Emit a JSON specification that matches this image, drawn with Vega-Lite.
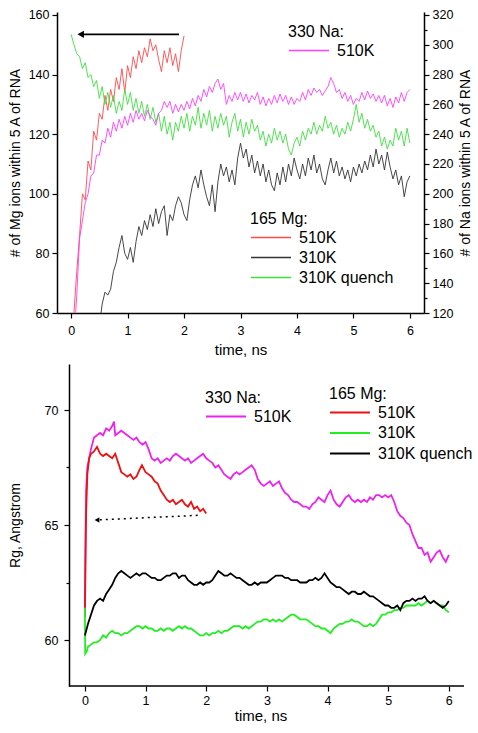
{
"$schema":"https://vega.github.io/schema/vega-lite/v6.json",
"padding":{"left":8,"top":8,"right":2,"bottom":2},
"spacing":6,
"config":{"font":"Liberation Sans","view":{"stroke":null},
"axis":{"grid":false,"domainColor":"#000","domainWidth":1.5,"tickColor":"#000","tickWidth":1.2,"labelColor":"#000","titleColor":"#000","labelFontSize":12.5,"titleFontSize":14,"titleFontWeight":"normal","labelOverlap":false,"labelFlush":false},
"legend":{"titleFontSize":16,"titleFontWeight":"normal","labelFontSize":16,"titleColor":"#000","labelColor":"#000","symbolType":"stroke","symbolSize":1600,"symbolOpacity":1,"clipHeight":17,"rowPadding":3,"titlePadding":2,"labelOffset":7,"padding":0,"orient":"none"}},
"datasets":{
"top_arrow":[{"t":1.91,"v":153.5,"t2":0.17,"v2":153.5}],
"bot_arrow":[{"t":1.86,"v":65.42,"t2":0.2,"v2":65.22}],
"bot_frame":[{"t":-0.264,"t2":6.25,"v":58}],
"top_mg":[
{"s":"510K","t":0.05,"v":60},{"s":"510K","t":0.1,"v":74},{"s":"510K","t":0.15,"v":86},{"s":"510K","t":0.2,"v":100},{"s":"510K","t":0.25,"v":98},{"s":"510K","t":0.3,"v":111},{"s":"510K","t":0.35,"v":108},{"s":"510K","t":0.4,"v":121},{"s":"510K","t":0.45,"v":118},{"s":"510K","t":0.5,"v":127},{"s":"510K","t":0.55,"v":125},{"s":"510K","t":0.6,"v":133},{"s":"510K","t":0.65,"v":128},{"s":"510K","t":0.7,"v":135},{"s":"510K","t":0.75,"v":131},{"s":"510K","t":0.8,"v":139},{"s":"510K","t":0.85,"v":135},{"s":"510K","t":0.9,"v":142},{"s":"510K","t":0.95,"v":134},{"s":"510K","t":1.0,"v":143},{"s":"510K","t":1.05,"v":139},{"s":"510K","t":1.1,"v":146},{"s":"510K","t":1.15,"v":142},{"s":"510K","t":1.2,"v":148},{"s":"510K","t":1.25,"v":144},{"s":"510K","t":1.3,"v":149},{"s":"510K","t":1.35,"v":146},{"s":"510K","t":1.4,"v":152},{"s":"510K","t":1.45,"v":148},{"s":"510K","t":1.5,"v":150},{"s":"510K","t":1.55,"v":145},{"s":"510K","t":1.6,"v":141},{"s":"510K","t":1.65,"v":148},{"s":"510K","t":1.7,"v":144},{"s":"510K","t":1.75,"v":149},{"s":"510K","t":1.8,"v":143},{"s":"510K","t":1.85,"v":147},{"s":"510K","t":1.9,"v":141},{"s":"510K","t":1.95,"v":148},{"s":"510K","t":2.0,"v":153},
{"s":"310K","t":0.53,"v":60},{"s":"310K","t":0.55,"v":63},{"s":"310K","t":0.6,"v":67},{"s":"310K","t":0.65,"v":66},{"s":"310K","t":0.7,"v":68},{"s":"310K","t":0.75,"v":74},{"s":"310K","t":0.8,"v":77},{"s":"310K","t":0.85,"v":82},{"s":"310K","t":0.9,"v":86},{"s":"310K","t":0.95,"v":80},{"s":"310K","t":1.0,"v":78},{"s":"310K","t":1.05,"v":82},{"s":"310K","t":1.1,"v":77},{"s":"310K","t":1.15,"v":84},{"s":"310K","t":1.2,"v":89},{"s":"310K","t":1.25,"v":86},{"s":"310K","t":1.3,"v":91},{"s":"310K","t":1.35,"v":88},{"s":"310K","t":1.4,"v":93},{"s":"310K","t":1.45,"v":89},{"s":"310K","t":1.5,"v":95},{"s":"310K","t":1.55,"v":90},{"s":"310K","t":1.6,"v":94},{"s":"310K","t":1.65,"v":96},{"s":"310K","t":1.7,"v":86},{"s":"310K","t":1.75,"v":93},{"s":"310K","t":1.8,"v":91},{"s":"310K","t":1.85,"v":96},{"s":"310K","t":1.9,"v":99},{"s":"310K","t":1.95,"v":97},{"s":"310K","t":2.0,"v":93},{"s":"310K","t":2.05,"v":91},{"s":"310K","t":2.1,"v":98},{"s":"310K","t":2.15,"v":103},{"s":"310K","t":2.2,"v":106},{"s":"310K","t":2.25,"v":102},{"s":"310K","t":2.3,"v":108},{"s":"310K","t":2.35,"v":103},{"s":"310K","t":2.4,"v":99},{"s":"310K","t":2.45,"v":96},{"s":"310K","t":2.5,"v":103},{"s":"310K","t":2.55,"v":94},{"s":"310K","t":2.6,"v":104},{"s":"310K","t":2.65,"v":110},{"s":"310K","t":2.7,"v":106},{"s":"310K","t":2.75,"v":109},{"s":"310K","t":2.8,"v":104},{"s":"310K","t":2.85,"v":108},{"s":"310K","t":2.9,"v":103},{"s":"310K","t":2.95,"v":112},{"s":"310K","t":3.0,"v":117},{"s":"310K","t":3.05,"v":112},{"s":"310K","t":3.1,"v":115},{"s":"310K","t":3.15,"v":109},{"s":"310K","t":3.2,"v":113},{"s":"310K","t":3.25,"v":107},{"s":"310K","t":3.3,"v":111},{"s":"310K","t":3.35,"v":106},{"s":"310K","t":3.4,"v":110},{"s":"310K","t":3.45,"v":104},{"s":"310K","t":3.5,"v":108},{"s":"310K","t":3.55,"v":103},{"s":"310K","t":3.6,"v":101},{"s":"310K","t":3.65,"v":107},{"s":"310K","t":3.7,"v":103},{"s":"310K","t":3.75,"v":109},{"s":"310K","t":3.8,"v":104},{"s":"310K","t":3.85,"v":110},{"s":"310K","t":3.9,"v":106},{"s":"310K","t":3.95,"v":112},{"s":"310K","t":4.0,"v":108},{"s":"310K","t":4.05,"v":105},{"s":"310K","t":4.1,"v":110},{"s":"310K","t":4.15,"v":106},{"s":"310K","t":4.2,"v":112},{"s":"310K","t":4.25,"v":108},{"s":"310K","t":4.3,"v":113},{"s":"310K","t":4.35,"v":107},{"s":"310K","t":4.4,"v":110},{"s":"310K","t":4.45,"v":105},{"s":"310K","t":4.5,"v":103},{"s":"310K","t":4.55,"v":108},{"s":"310K","t":4.6,"v":112},{"s":"310K","t":4.65,"v":107},{"s":"310K","t":4.7,"v":111},{"s":"310K","t":4.75,"v":106},{"s":"310K","t":4.8,"v":109},{"s":"310K","t":4.85,"v":105},{"s":"310K","t":4.9,"v":108},{"s":"310K","t":4.95,"v":104},{"s":"310K","t":5.0,"v":109},{"s":"310K","t":5.05,"v":106},{"s":"310K","t":5.1,"v":110},{"s":"310K","t":5.15,"v":107},{"s":"310K","t":5.2,"v":111},{"s":"310K","t":5.25,"v":108},{"s":"310K","t":5.3,"v":113},{"s":"310K","t":5.35,"v":109},{"s":"310K","t":5.4,"v":115},{"s":"310K","t":5.45,"v":110},{"s":"310K","t":5.5,"v":113},{"s":"310K","t":5.55,"v":108},{"s":"310K","t":5.6,"v":114},{"s":"310K","t":5.65,"v":109},{"s":"310K","t":5.7,"v":105},{"s":"310K","t":5.75,"v":108},{"s":"310K","t":5.8,"v":103},{"s":"310K","t":5.85,"v":106},{"s":"310K","t":5.9,"v":99},{"s":"310K","t":5.95,"v":104},{"s":"310K","t":6.0,"v":106},
{"s":"310K quench","t":0.0,"v":153.5},{"s":"310K quench","t":0.05,"v":150},{"s":"310K quench","t":0.1,"v":147},{"s":"310K quench","t":0.15,"v":146},{"s":"310K quench","t":0.2,"v":142},{"s":"310K quench","t":0.25,"v":144},{"s":"310K quench","t":0.3,"v":139},{"s":"310K quench","t":0.35,"v":140},{"s":"310K quench","t":0.4,"v":136},{"s":"310K quench","t":0.45,"v":138},{"s":"310K quench","t":0.5,"v":132},{"s":"310K quench","t":0.55,"v":136},{"s":"310K quench","t":0.6,"v":130},{"s":"310K quench","t":0.65,"v":134},{"s":"310K quench","t":0.7,"v":129},{"s":"310K quench","t":0.75,"v":133},{"s":"310K quench","t":0.8,"v":127},{"s":"310K quench","t":0.85,"v":131},{"s":"310K quench","t":0.9,"v":128},{"s":"310K quench","t":0.95,"v":135},{"s":"310K quench","t":1.0,"v":130},{"s":"310K quench","t":1.05,"v":134},{"s":"310K quench","t":1.1,"v":128},{"s":"310K quench","t":1.15,"v":132},{"s":"310K quench","t":1.2,"v":127},{"s":"310K quench","t":1.25,"v":131},{"s":"310K quench","t":1.3,"v":126},{"s":"310K quench","t":1.35,"v":130},{"s":"310K quench","t":1.4,"v":125},{"s":"310K quench","t":1.45,"v":129},{"s":"310K quench","t":1.5,"v":124},{"s":"310K quench","t":1.55,"v":127},{"s":"310K quench","t":1.6,"v":121},{"s":"310K quench","t":1.65,"v":126},{"s":"310K quench","t":1.7,"v":120},{"s":"310K quench","t":1.75,"v":124},{"s":"310K quench","t":1.8,"v":118},{"s":"310K quench","t":1.85,"v":124},{"s":"310K quench","t":1.9,"v":121},{"s":"310K quench","t":1.95,"v":126},{"s":"310K quench","t":2.0,"v":122},{"s":"310K quench","t":2.05,"v":127},{"s":"310K quench","t":2.1,"v":121},{"s":"310K quench","t":2.15,"v":126},{"s":"310K quench","t":2.2,"v":123},{"s":"310K quench","t":2.25,"v":129},{"s":"310K quench","t":2.3,"v":122},{"s":"310K quench","t":2.35,"v":127},{"s":"310K quench","t":2.4,"v":123},{"s":"310K quench","t":2.45,"v":128},{"s":"310K quench","t":2.5,"v":121},{"s":"310K quench","t":2.55,"v":126},{"s":"310K quench","t":2.6,"v":122},{"s":"310K quench","t":2.65,"v":127},{"s":"310K quench","t":2.7,"v":123},{"s":"310K quench","t":2.75,"v":126},{"s":"310K quench","t":2.8,"v":119},{"s":"310K quench","t":2.85,"v":124},{"s":"310K quench","t":2.9,"v":127},{"s":"310K quench","t":2.95,"v":121},{"s":"310K quench","t":3.0,"v":125},{"s":"310K quench","t":3.05,"v":119},{"s":"310K quench","t":3.1,"v":124},{"s":"310K quench","t":3.15,"v":120},{"s":"310K quench","t":3.2,"v":125},{"s":"310K quench","t":3.25,"v":121},{"s":"310K quench","t":3.3,"v":123},{"s":"310K quench","t":3.35,"v":118},{"s":"310K quench","t":3.4,"v":121},{"s":"310K quench","t":3.45,"v":116},{"s":"310K quench","t":3.5,"v":120},{"s":"310K quench","t":3.55,"v":117},{"s":"310K quench","t":3.6,"v":122},{"s":"310K quench","t":3.65,"v":118},{"s":"310K quench","t":3.7,"v":121},{"s":"310K quench","t":3.75,"v":117},{"s":"310K quench","t":3.8,"v":120},{"s":"310K quench","t":3.85,"v":115},{"s":"310K quench","t":3.9,"v":113},{"s":"310K quench","t":3.95,"v":117},{"s":"310K quench","t":4.0,"v":119},{"s":"310K quench","t":4.05,"v":116},{"s":"310K quench","t":4.1,"v":121},{"s":"310K quench","t":4.15,"v":118},{"s":"310K quench","t":4.2,"v":122},{"s":"310K quench","t":4.25,"v":120},{"s":"310K quench","t":4.3,"v":124},{"s":"310K quench","t":4.35,"v":120},{"s":"310K quench","t":4.4,"v":123},{"s":"310K quench","t":4.45,"v":121},{"s":"310K quench","t":4.5,"v":126},{"s":"310K quench","t":4.55,"v":122},{"s":"310K quench","t":4.6,"v":124},{"s":"310K quench","t":4.65,"v":120},{"s":"310K quench","t":4.7,"v":123},{"s":"310K quench","t":4.75,"v":119},{"s":"310K quench","t":4.8,"v":122},{"s":"310K quench","t":4.85,"v":120},{"s":"310K quench","t":4.9,"v":124},{"s":"310K quench","t":4.95,"v":121},{"s":"310K quench","t":5.0,"v":125},{"s":"310K quench","t":5.05,"v":130},{"s":"310K quench","t":5.1,"v":124},{"s":"310K quench","t":5.15,"v":127},{"s":"310K quench","t":5.2,"v":122},{"s":"310K quench","t":5.25,"v":125},{"s":"310K quench","t":5.3,"v":121},{"s":"310K quench","t":5.35,"v":123},{"s":"310K quench","t":5.4,"v":119},{"s":"310K quench","t":5.45,"v":121},{"s":"310K quench","t":5.5,"v":116},{"s":"310K quench","t":5.55,"v":119},{"s":"310K quench","t":5.6,"v":115},{"s":"310K quench","t":5.65,"v":118},{"s":"310K quench","t":5.7,"v":116},{"s":"310K quench","t":5.75,"v":122},{"s":"310K quench","t":5.8,"v":118},{"s":"310K quench","t":5.85,"v":121},{"s":"310K quench","t":5.9,"v":116},{"s":"310K quench","t":5.95,"v":122},{"s":"310K quench","t":6.0,"v":117}
],
"top_na":[
{"s":"510K","t":0.08,"v":120},{"s":"510K","t":0.1,"v":132},{"s":"510K","t":0.15,"v":170},{"s":"510K","t":0.2,"v":182},{"s":"510K","t":0.25,"v":194},{"s":"510K","t":0.3,"v":200},{"s":"510K","t":0.35,"v":212},{"s":"510K","t":0.4,"v":214},{"s":"510K","t":0.45,"v":226},{"s":"510K","t":0.5,"v":226},{"s":"510K","t":0.55,"v":236},{"s":"510K","t":0.6,"v":234},{"s":"510K","t":0.65,"v":244},{"s":"510K","t":0.7,"v":238},{"s":"510K","t":0.75,"v":248},{"s":"510K","t":0.8,"v":242},{"s":"510K","t":0.85,"v":250},{"s":"510K","t":0.9,"v":244},{"s":"510K","t":0.95,"v":252},{"s":"510K","t":1.0,"v":246},{"s":"510K","t":1.05,"v":254},{"s":"510K","t":1.1,"v":248},{"s":"510K","t":1.15,"v":256},{"s":"510K","t":1.2,"v":250},{"s":"510K","t":1.25,"v":254},{"s":"510K","t":1.3,"v":249},{"s":"510K","t":1.35,"v":256},{"s":"510K","t":1.4,"v":252},{"s":"510K","t":1.45,"v":250},{"s":"510K","t":1.5,"v":246},{"s":"510K","t":1.55,"v":254},{"s":"510K","t":1.6,"v":256},{"s":"510K","t":1.65,"v":262},{"s":"510K","t":1.7,"v":258},{"s":"510K","t":1.75,"v":262},{"s":"510K","t":1.8,"v":254},{"s":"510K","t":1.85,"v":260},{"s":"510K","t":1.9,"v":255},{"s":"510K","t":1.95,"v":260},{"s":"510K","t":2.0,"v":256},{"s":"510K","t":2.05,"v":262},{"s":"510K","t":2.1,"v":257},{"s":"510K","t":2.15,"v":264},{"s":"510K","t":2.2,"v":259},{"s":"510K","t":2.25,"v":266},{"s":"510K","t":2.3,"v":262},{"s":"510K","t":2.35,"v":270},{"s":"510K","t":2.4,"v":265},{"s":"510K","t":2.45,"v":272},{"s":"510K","t":2.5,"v":268},{"s":"510K","t":2.55,"v":274},{"s":"510K","t":2.6,"v":277},{"s":"510K","t":2.65,"v":270},{"s":"510K","t":2.7,"v":274},{"s":"510K","t":2.75,"v":260},{"s":"510K","t":2.8,"v":266},{"s":"510K","t":2.85,"v":262},{"s":"510K","t":2.9,"v":268},{"s":"510K","t":2.95,"v":263},{"s":"510K","t":3.0,"v":268},{"s":"510K","t":3.05,"v":262},{"s":"510K","t":3.1,"v":267},{"s":"510K","t":3.15,"v":261},{"s":"510K","t":3.2,"v":266},{"s":"510K","t":3.25,"v":263},{"s":"510K","t":3.3,"v":268},{"s":"510K","t":3.35,"v":260},{"s":"510K","t":3.4,"v":265},{"s":"510K","t":3.45,"v":259},{"s":"510K","t":3.5,"v":264},{"s":"510K","t":3.55,"v":260},{"s":"510K","t":3.6,"v":266},{"s":"510K","t":3.65,"v":261},{"s":"510K","t":3.7,"v":267},{"s":"510K","t":3.75,"v":262},{"s":"510K","t":3.8,"v":266},{"s":"510K","t":3.85,"v":260},{"s":"510K","t":3.9,"v":265},{"s":"510K","t":3.95,"v":260},{"s":"510K","t":4.0,"v":264},{"s":"510K","t":4.05,"v":262},{"s":"510K","t":4.1,"v":268},{"s":"510K","t":4.15,"v":263},{"s":"510K","t":4.2,"v":270},{"s":"510K","t":4.25,"v":266},{"s":"510K","t":4.3,"v":271},{"s":"510K","t":4.35,"v":268},{"s":"510K","t":4.4,"v":270},{"s":"510K","t":4.45,"v":266},{"s":"510K","t":4.5,"v":269},{"s":"510K","t":4.55,"v":272},{"s":"510K","t":4.6,"v":278},{"s":"510K","t":4.65,"v":274},{"s":"510K","t":4.7,"v":268},{"s":"510K","t":4.75,"v":270},{"s":"510K","t":4.8,"v":264},{"s":"510K","t":4.85,"v":268},{"s":"510K","t":4.9,"v":262},{"s":"510K","t":4.95,"v":266},{"s":"510K","t":5.0,"v":260},{"s":"510K","t":5.05,"v":264},{"s":"510K","t":5.1,"v":262},{"s":"510K","t":5.15,"v":268},{"s":"510K","t":5.2,"v":263},{"s":"510K","t":5.25,"v":269},{"s":"510K","t":5.3,"v":264},{"s":"510K","t":5.35,"v":267},{"s":"510K","t":5.4,"v":262},{"s":"510K","t":5.45,"v":266},{"s":"510K","t":5.5,"v":261},{"s":"510K","t":5.55,"v":266},{"s":"510K","t":5.6,"v":259},{"s":"510K","t":5.65,"v":264},{"s":"510K","t":5.7,"v":258},{"s":"510K","t":5.75,"v":265},{"s":"510K","t":5.8,"v":261},{"s":"510K","t":5.85,"v":268},{"s":"510K","t":5.9,"v":262},{"s":"510K","t":5.95,"v":268},{"s":"510K","t":6.0,"v":270}
],
"bot_na":[
{"s":"510K","t":0.0,"v":61.4},{"s":"510K","t":0.01,"v":64.5},{"s":"510K","t":0.02,"v":66.5},{"s":"510K","t":0.04,"v":67.5},{"s":"510K","t":0.07,"v":67.9},{"s":"510K","t":0.1,"v":68.3},{"s":"510K","t":0.15,"v":68.8},{"s":"510K","t":0.2,"v":68.9},{"s":"510K","t":0.25,"v":69.0},{"s":"510K","t":0.3,"v":68.9},{"s":"510K","t":0.35,"v":69.2},{"s":"510K","t":0.4,"v":69.1},{"s":"510K","t":0.45,"v":69.3},{"s":"510K","t":0.48,"v":69.5},{"s":"510K","t":0.5,"v":68.9},{"s":"510K","t":0.55,"v":69.0},{"s":"510K","t":0.6,"v":69.1},{"s":"510K","t":0.65,"v":69.0},{"s":"510K","t":0.7,"v":68.9},{"s":"510K","t":0.75,"v":68.8},{"s":"510K","t":0.8,"v":68.7},{"s":"510K","t":0.85,"v":68.8},{"s":"510K","t":0.9,"v":68.6},{"s":"510K","t":0.95,"v":68.5},{"s":"510K","t":1.0,"v":68.6},{"s":"510K","t":1.05,"v":68.3},{"s":"510K","t":1.1,"v":67.9},{"s":"510K","t":1.15,"v":67.8},{"s":"510K","t":1.2,"v":67.9},{"s":"510K","t":1.25,"v":67.7},{"s":"510K","t":1.3,"v":67.8},{"s":"510K","t":1.35,"v":67.9},{"s":"510K","t":1.4,"v":67.8},{"s":"510K","t":1.45,"v":68.0},{"s":"510K","t":1.5,"v":68.1},{"s":"510K","t":1.55,"v":68.0},{"s":"510K","t":1.6,"v":67.9},{"s":"510K","t":1.65,"v":67.8},{"s":"510K","t":1.7,"v":67.9},{"s":"510K","t":1.75,"v":67.7},{"s":"510K","t":1.8,"v":67.8},{"s":"510K","t":1.85,"v":67.9},{"s":"510K","t":1.9,"v":68.0},{"s":"510K","t":1.95,"v":68.1},{"s":"510K","t":2.0,"v":67.9},{"s":"510K","t":2.05,"v":67.8},{"s":"510K","t":2.1,"v":67.7},{"s":"510K","t":2.15,"v":67.5},{"s":"510K","t":2.2,"v":67.6},{"s":"510K","t":2.25,"v":67.4},{"s":"510K","t":2.3,"v":67.2},{"s":"510K","t":2.35,"v":67.1},{"s":"510K","t":2.4,"v":67.0},{"s":"510K","t":2.45,"v":67.2},{"s":"510K","t":2.5,"v":67.3},{"s":"510K","t":2.55,"v":67.2},{"s":"510K","t":2.6,"v":67.3},{"s":"510K","t":2.65,"v":67.4},{"s":"510K","t":2.7,"v":67.5},{"s":"510K","t":2.75,"v":67.6},{"s":"510K","t":2.8,"v":67.4},{"s":"510K","t":2.85,"v":67.0},{"s":"510K","t":2.9,"v":66.8},{"s":"510K","t":2.95,"v":66.7},{"s":"510K","t":3.0,"v":66.8},{"s":"510K","t":3.05,"v":66.9},{"s":"510K","t":3.1,"v":66.7},{"s":"510K","t":3.15,"v":66.8},{"s":"510K","t":3.2,"v":66.9},{"s":"510K","t":3.25,"v":66.6},{"s":"510K","t":3.3,"v":66.4},{"s":"510K","t":3.35,"v":66.3},{"s":"510K","t":3.4,"v":66.1},{"s":"510K","t":3.45,"v":66.0},{"s":"510K","t":3.5,"v":66.0},{"s":"510K","t":3.55,"v":65.9},{"s":"510K","t":3.6,"v":65.8},{"s":"510K","t":3.65,"v":65.8},{"s":"510K","t":3.7,"v":65.7},{"s":"510K","t":3.75,"v":65.9},{"s":"510K","t":3.8,"v":66.0},{"s":"510K","t":3.85,"v":66.2},{"s":"510K","t":3.9,"v":66.1},{"s":"510K","t":3.95,"v":66.0},{"s":"510K","t":4.0,"v":66.3},{"s":"510K","t":4.05,"v":66.5},{"s":"510K","t":4.1,"v":66.1},{"s":"510K","t":4.15,"v":65.9},{"s":"510K","t":4.2,"v":65.8},{"s":"510K","t":4.25,"v":66.0},{"s":"510K","t":4.3,"v":66.2},{"s":"510K","t":4.35,"v":66.3},{"s":"510K","t":4.4,"v":66.1},{"s":"510K","t":4.45,"v":66.0},{"s":"510K","t":4.5,"v":66.1},{"s":"510K","t":4.55,"v":66.0},{"s":"510K","t":4.6,"v":66.1},{"s":"510K","t":4.65,"v":66.0},{"s":"510K","t":4.7,"v":66.2},{"s":"510K","t":4.75,"v":66.1},{"s":"510K","t":4.8,"v":66.3},{"s":"510K","t":4.85,"v":66.3},{"s":"510K","t":4.9,"v":66.2},{"s":"510K","t":4.95,"v":66.3},{"s":"510K","t":5.0,"v":66.2},{"s":"510K","t":5.05,"v":66.3},{"s":"510K","t":5.1,"v":66.0},{"s":"510K","t":5.15,"v":65.6},{"s":"510K","t":5.2,"v":65.4},{"s":"510K","t":5.25,"v":65.3},{"s":"510K","t":5.3,"v":65.1},{"s":"510K","t":5.35,"v":65.0},{"s":"510K","t":5.4,"v":64.6},{"s":"510K","t":5.45,"v":64.3},{"s":"510K","t":5.5,"v":64.0},{"s":"510K","t":5.55,"v":64.0},{"s":"510K","t":5.6,"v":63.7},{"s":"510K","t":5.65,"v":63.8},{"s":"510K","t":5.7,"v":63.4},{"s":"510K","t":5.75,"v":63.6},{"s":"510K","t":5.8,"v":63.8},{"s":"510K","t":5.85,"v":63.9},{"s":"510K","t":5.9,"v":63.6},{"s":"510K","t":5.95,"v":63.4},{"s":"510K","t":6.0,"v":63.7}
],
"bot_mg":[
{"s":"510K","t":0.0,"v":61.0},{"s":"510K","t":0.01,"v":63.5},{"s":"510K","t":0.02,"v":65.5},{"s":"510K","t":0.04,"v":67.2},{"s":"510K","t":0.07,"v":67.9},{"s":"510K","t":0.1,"v":68.1},{"s":"510K","t":0.15,"v":68.2},{"s":"510K","t":0.2,"v":68.4},{"s":"510K","t":0.25,"v":68.1},{"s":"510K","t":0.3,"v":68.0},{"s":"510K","t":0.35,"v":68.1},{"s":"510K","t":0.4,"v":68.0},{"s":"510K","t":0.45,"v":67.9},{"s":"510K","t":0.5,"v":68.1},{"s":"510K","t":0.55,"v":67.7},{"s":"510K","t":0.6,"v":67.3},{"s":"510K","t":0.65,"v":67.2},{"s":"510K","t":0.7,"v":67.1},{"s":"510K","t":0.75,"v":67.2},{"s":"510K","t":0.8,"v":67.0},{"s":"510K","t":0.85,"v":67.1},{"s":"510K","t":0.9,"v":67.4},{"s":"510K","t":0.94,"v":67.6},{"s":"510K","t":1.0,"v":67.3},{"s":"510K","t":1.05,"v":67.2},{"s":"510K","t":1.1,"v":67.1},{"s":"510K","t":1.15,"v":66.9},{"s":"510K","t":1.2,"v":66.8},{"s":"510K","t":1.25,"v":66.5},{"s":"510K","t":1.3,"v":66.3},{"s":"510K","t":1.35,"v":66.1},{"s":"510K","t":1.4,"v":66.0},{"s":"510K","t":1.45,"v":66.1},{"s":"510K","t":1.5,"v":65.9},{"s":"510K","t":1.55,"v":66.0},{"s":"510K","t":1.6,"v":66.1},{"s":"510K","t":1.65,"v":65.9},{"s":"510K","t":1.7,"v":65.8},{"s":"510K","t":1.75,"v":66.0},{"s":"510K","t":1.8,"v":65.7},{"s":"510K","t":1.85,"v":65.8},{"s":"510K","t":1.9,"v":65.6},{"s":"510K","t":1.95,"v":65.7},{"s":"510K","t":2.0,"v":65.5},
{"s":"310K","t":0.0,"v":61.4},{"s":"310K","t":0.005,"v":59.4},{"s":"310K","t":0.03,"v":59.5},{"s":"310K","t":0.05,"v":59.7},{"s":"310K","t":0.1,"v":59.8},{"s":"310K","t":0.15,"v":59.9},{"s":"310K","t":0.2,"v":59.9},{"s":"310K","t":0.25,"v":60.0},{"s":"310K","t":0.3,"v":60.2},{"s":"310K","t":0.35,"v":60.1},{"s":"310K","t":0.4,"v":60.3},{"s":"310K","t":0.45,"v":60.4},{"s":"310K","t":0.5,"v":60.3},{"s":"310K","t":0.55,"v":60.3},{"s":"310K","t":0.6,"v":60.2},{"s":"310K","t":0.65,"v":60.3},{"s":"310K","t":0.7,"v":60.3},{"s":"310K","t":0.75,"v":60.4},{"s":"310K","t":0.8,"v":60.5},{"s":"310K","t":0.85,"v":60.6},{"s":"310K","t":0.9,"v":60.6},{"s":"310K","t":0.95,"v":60.5},{"s":"310K","t":1.0,"v":60.6},{"s":"310K","t":1.05,"v":60.5},{"s":"310K","t":1.1,"v":60.5},{"s":"310K","t":1.15,"v":60.4},{"s":"310K","t":1.2,"v":60.4},{"s":"310K","t":1.25,"v":60.5},{"s":"310K","t":1.3,"v":60.4},{"s":"310K","t":1.35,"v":60.5},{"s":"310K","t":1.4,"v":60.5},{"s":"310K","t":1.45,"v":60.4},{"s":"310K","t":1.5,"v":60.5},{"s":"310K","t":1.55,"v":60.6},{"s":"310K","t":1.6,"v":60.5},{"s":"310K","t":1.65,"v":60.6},{"s":"310K","t":1.7,"v":60.5},{"s":"310K","t":1.75,"v":60.5},{"s":"310K","t":1.8,"v":60.4},{"s":"310K","t":1.85,"v":60.3},{"s":"310K","t":1.9,"v":60.2},{"s":"310K","t":1.95,"v":60.2},{"s":"310K","t":2.0,"v":60.3},{"s":"310K","t":2.05,"v":60.2},{"s":"310K","t":2.1,"v":60.3},{"s":"310K","t":2.15,"v":60.3},{"s":"310K","t":2.2,"v":60.4},{"s":"310K","t":2.25,"v":60.3},{"s":"310K","t":2.3,"v":60.4},{"s":"310K","t":2.35,"v":60.4},{"s":"310K","t":2.4,"v":60.5},{"s":"310K","t":2.45,"v":60.6},{"s":"310K","t":2.5,"v":60.6},{"s":"310K","t":2.55,"v":60.6},{"s":"310K","t":2.6,"v":60.5},{"s":"310K","t":2.65,"v":60.6},{"s":"310K","t":2.7,"v":60.5},{"s":"310K","t":2.75,"v":60.6},{"s":"310K","t":2.8,"v":60.7},{"s":"310K","t":2.85,"v":60.8},{"s":"310K","t":2.9,"v":60.8},{"s":"310K","t":2.95,"v":60.9},{"s":"310K","t":3.0,"v":60.9},{"s":"310K","t":3.05,"v":60.8},{"s":"310K","t":3.1,"v":60.9},{"s":"310K","t":3.15,"v":60.8},{"s":"310K","t":3.2,"v":60.9},{"s":"310K","t":3.25,"v":60.8},{"s":"310K","t":3.3,"v":60.9},{"s":"310K","t":3.35,"v":61.0},{"s":"310K","t":3.4,"v":61.1},{"s":"310K","t":3.45,"v":61.1},{"s":"310K","t":3.5,"v":61.0},{"s":"310K","t":3.55,"v":60.9},{"s":"310K","t":3.6,"v":60.9},{"s":"310K","t":3.65,"v":60.9},{"s":"310K","t":3.7,"v":60.8},{"s":"310K","t":3.75,"v":60.7},{"s":"310K","t":3.8,"v":60.6},{"s":"310K","t":3.85,"v":60.6},{"s":"310K","t":3.9,"v":60.5},{"s":"310K","t":3.95,"v":60.5},{"s":"310K","t":4.0,"v":60.4},{"s":"310K","t":4.05,"v":60.3},{"s":"310K","t":4.1,"v":60.5},{"s":"310K","t":4.15,"v":60.6},{"s":"310K","t":4.2,"v":60.7},{"s":"310K","t":4.25,"v":60.7},{"s":"310K","t":4.3,"v":60.8},{"s":"310K","t":4.35,"v":60.8},{"s":"310K","t":4.4,"v":60.9},{"s":"310K","t":4.45,"v":60.8},{"s":"310K","t":4.5,"v":60.8},{"s":"310K","t":4.55,"v":60.7},{"s":"310K","t":4.6,"v":60.6},{"s":"310K","t":4.65,"v":60.6},{"s":"310K","t":4.7,"v":60.7},{"s":"310K","t":4.75,"v":60.6},{"s":"310K","t":4.8,"v":60.7},{"s":"310K","t":4.85,"v":60.9},{"s":"310K","t":4.9,"v":61.1},{"s":"310K","t":4.95,"v":61.1},{"s":"310K","t":5.0,"v":61.2},{"s":"310K","t":5.05,"v":61.2},{"s":"310K","t":5.1,"v":61.3},{"s":"310K","t":5.15,"v":61.3},{"s":"310K","t":5.2,"v":61.4},{"s":"310K","t":5.25,"v":61.4},{"s":"310K","t":5.3,"v":61.5},{"s":"310K","t":5.35,"v":61.5},{"s":"310K","t":5.4,"v":61.5},{"s":"310K","t":5.45,"v":61.5},{"s":"310K","t":5.5,"v":61.6},{"s":"310K","t":5.55,"v":61.5},{"s":"310K","t":5.6,"v":61.6},{"s":"310K","t":5.65,"v":61.7},{"s":"310K","t":5.7,"v":61.6},{"s":"310K","t":5.75,"v":61.7},{"s":"310K","t":5.8,"v":61.6},{"s":"310K","t":5.85,"v":61.5},{"s":"310K","t":5.9,"v":61.5},{"s":"310K","t":5.95,"v":61.3},{"s":"310K","t":6.0,"v":61.2},
{"s":"310K quench","t":0.0,"v":60.2},{"s":"310K quench","t":0.05,"v":60.7},{"s":"310K quench","t":0.1,"v":61.1},{"s":"310K quench","t":0.15,"v":61.5},{"s":"310K quench","t":0.2,"v":61.7},{"s":"310K quench","t":0.25,"v":61.8},{"s":"310K quench","t":0.3,"v":61.7},{"s":"310K quench","t":0.35,"v":62.0},{"s":"310K quench","t":0.4,"v":62.2},{"s":"310K quench","t":0.45,"v":62.4},{"s":"310K quench","t":0.5,"v":62.7},{"s":"310K quench","t":0.55,"v":62.9},{"s":"310K quench","t":0.6,"v":63.0},{"s":"310K quench","t":0.65,"v":62.9},{"s":"310K quench","t":0.7,"v":62.8},{"s":"310K quench","t":0.75,"v":62.7},{"s":"310K quench","t":0.8,"v":62.8},{"s":"310K quench","t":0.85,"v":62.9},{"s":"310K quench","t":0.9,"v":62.8},{"s":"310K quench","t":0.95,"v":62.9},{"s":"310K quench","t":1.0,"v":62.9},{"s":"310K quench","t":1.05,"v":62.8},{"s":"310K quench","t":1.1,"v":62.7},{"s":"310K quench","t":1.15,"v":62.7},{"s":"310K quench","t":1.2,"v":62.6},{"s":"310K quench","t":1.25,"v":62.6},{"s":"310K quench","t":1.3,"v":62.7},{"s":"310K quench","t":1.35,"v":62.8},{"s":"310K quench","t":1.4,"v":62.8},{"s":"310K quench","t":1.45,"v":62.9},{"s":"310K quench","t":1.5,"v":62.9},{"s":"310K quench","t":1.55,"v":62.7},{"s":"310K quench","t":1.6,"v":62.8},{"s":"310K quench","t":1.65,"v":62.8},{"s":"310K quench","t":1.7,"v":62.6},{"s":"310K quench","t":1.75,"v":62.5},{"s":"310K quench","t":1.8,"v":62.4},{"s":"310K quench","t":1.85,"v":62.4},{"s":"310K quench","t":1.9,"v":62.5},{"s":"310K quench","t":1.95,"v":62.4},{"s":"310K quench","t":2.0,"v":62.5},{"s":"310K quench","t":2.05,"v":62.5},{"s":"310K quench","t":2.1,"v":62.6},{"s":"310K quench","t":2.15,"v":62.8},{"s":"310K quench","t":2.2,"v":63.0},{"s":"310K quench","t":2.25,"v":62.9},{"s":"310K quench","t":2.3,"v":62.8},{"s":"310K quench","t":2.35,"v":62.8},{"s":"310K quench","t":2.4,"v":62.9},{"s":"310K quench","t":2.45,"v":62.8},{"s":"310K quench","t":2.5,"v":62.7},{"s":"310K quench","t":2.55,"v":62.7},{"s":"310K quench","t":2.6,"v":62.6},{"s":"310K quench","t":2.65,"v":62.5},{"s":"310K quench","t":2.7,"v":62.4},{"s":"310K quench","t":2.75,"v":62.4},{"s":"310K quench","t":2.8,"v":62.5},{"s":"310K quench","t":2.85,"v":62.4},{"s":"310K quench","t":2.9,"v":62.5},{"s":"310K quench","t":2.95,"v":62.5},{"s":"310K quench","t":3.0,"v":62.5},{"s":"310K quench","t":3.05,"v":62.6},{"s":"310K quench","t":3.1,"v":62.7},{"s":"310K quench","t":3.15,"v":62.8},{"s":"310K quench","t":3.2,"v":62.8},{"s":"310K quench","t":3.25,"v":62.8},{"s":"310K quench","t":3.3,"v":62.7},{"s":"310K quench","t":3.35,"v":62.7},{"s":"310K quench","t":3.4,"v":62.6},{"s":"310K quench","t":3.45,"v":62.6},{"s":"310K quench","t":3.5,"v":62.6},{"s":"310K quench","t":3.55,"v":62.5},{"s":"310K quench","t":3.6,"v":62.5},{"s":"310K quench","t":3.65,"v":62.5},{"s":"310K quench","t":3.7,"v":62.6},{"s":"310K quench","t":3.75,"v":62.6},{"s":"310K quench","t":3.8,"v":62.7},{"s":"310K quench","t":3.85,"v":62.6},{"s":"310K quench","t":3.9,"v":62.7},{"s":"310K quench","t":3.95,"v":62.9},{"s":"310K quench","t":4.0,"v":62.7},{"s":"310K quench","t":4.05,"v":62.5},{"s":"310K quench","t":4.1,"v":62.4},{"s":"310K quench","t":4.15,"v":62.3},{"s":"310K quench","t":4.2,"v":62.3},{"s":"310K quench","t":4.25,"v":62.2},{"s":"310K quench","t":4.3,"v":62.1},{"s":"310K quench","t":4.35,"v":62.0},{"s":"310K quench","t":4.4,"v":62.1},{"s":"310K quench","t":4.45,"v":62.1},{"s":"310K quench","t":4.5,"v":62.0},{"s":"310K quench","t":4.55,"v":62.0},{"s":"310K quench","t":4.6,"v":62.1},{"s":"310K quench","t":4.65,"v":62.0},{"s":"310K quench","t":4.7,"v":61.9},{"s":"310K quench","t":4.75,"v":61.9},{"s":"310K quench","t":4.8,"v":61.8},{"s":"310K quench","t":4.85,"v":61.7},{"s":"310K quench","t":4.9,"v":61.6},{"s":"310K quench","t":4.95,"v":61.5},{"s":"310K quench","t":5.0,"v":61.5},{"s":"310K quench","t":5.05,"v":61.4},{"s":"310K quench","t":5.1,"v":61.4},{"s":"310K quench","t":5.15,"v":61.5},{"s":"310K quench","t":5.2,"v":61.3},{"s":"310K quench","t":5.25,"v":61.6},{"s":"310K quench","t":5.3,"v":61.7},{"s":"310K quench","t":5.35,"v":61.7},{"s":"310K quench","t":5.4,"v":61.8},{"s":"310K quench","t":5.45,"v":61.7},{"s":"310K quench","t":5.5,"v":61.8},{"s":"310K quench","t":5.55,"v":61.8},{"s":"310K quench","t":5.6,"v":61.9},{"s":"310K quench","t":5.65,"v":61.7},{"s":"310K quench","t":5.7,"v":61.6},{"s":"310K quench","t":5.75,"v":61.7},{"s":"310K quench","t":5.8,"v":61.6},{"s":"310K quench","t":5.85,"v":61.5},{"s":"310K quench","t":5.9,"v":61.4},{"s":"310K quench","t":5.95,"v":61.5},{"s":"310K quench","t":6.0,"v":61.7}
]
},
"vconcat":[
{
"width":367,"height":301,
"layer":[
{"layer":[
{"data":{"name":"top_mg"},"mark":{"type":"line","strokeWidth":0.9},
"encoding":{
"x":{"field":"t","type":"quantitative","scale":{"domain":[-0.25,6.25],"nice":false,"zero":false},
"axis":{"orient":"bottom","title":"time, ns","titleFontSize":15,"values":[0,0.5,1,1.5,2,2.5,3,3.5,4,4.5,5,5.5,6],"labelExpr":"datum.value % 1 === 0 ? format(datum.value, 'd') : ''","tickSize":{"condition":{"test":"datum.value % 1 === 0","value":5},"value":3},"labelPadding":6,"titlePadding":6}},
"y":{"field":"v","type":"quantitative","scale":{"domain":[60,161],"nice":false,"zero":false},
"axis":{"orient":"left","title":"# of Mg ions within 5 A of RNA","values":[60,70,80,90,100,110,120,130,140,150,160],"labelExpr":"datum.value % 20 === 0 ? format(datum.value, 'd') : ''","tickSize":{"condition":{"test":"datum.value % 20 === 0","value":5},"value":3},"labelPadding":3,"titlePadding":6}},
"color":{"field":"s","type":"nominal","scale":{"domain":["510K","310K","310K quench"],"range":["#ff4a4a","#333333","#3ee03e"]},
"legend":{"title":"165 Mg:","legendX":193,"legendY":199,"symbolStrokeWidth":1.5}}
}},
{"data":{"name":"top_arrow"},"mark":{"type":"rule","color":"#000","strokeWidth":1.6},
"encoding":{"x":{"field":"t","type":"quantitative"},"x2":{"field":"t2"},"y":{"field":"v","type":"quantitative"},"y2":{"field":"v2"}}},
{"data":{"name":"top_arrow"},"mark":{"type":"point","shape":"triangle-left","filled":true,"size":55,"color":"#000","opacity":1},
"encoding":{"x":{"field":"t2","type":"quantitative"},"y":{"field":"v2","type":"quantitative"}}}
]},
{"data":{"name":"top_na"},"mark":{"type":"line","strokeWidth":0.9},
"encoding":{
"x":{"field":"t","type":"quantitative"},
"y":{"field":"v","type":"quantitative","scale":{"domain":[120,322],"nice":false,"zero":false},
"axis":{"orient":"right","title":"# of Na ions within 5 A of  RNA","titleAngle":270,"titleBaseline":"top","values":[120,130,140,150,160,170,180,190,200,210,220,230,240,250,260,270,280,290,300,310,320],"labelExpr":"datum.value % 20 === 0 ? format(datum.value, 'd') : ''","tickSize":{"condition":{"test":"datum.value % 20 === 0","value":5},"value":3},"labelPadding":3,"titlePadding":6}},
"color":{"field":"s","type":"nominal","scale":{"domain":["510K"],"range":["#ff3cff"]},
"legend":{"title":"330 Na:","legendX":231,"legendY":12,"symbolStrokeWidth":1.5}}
}}
],
"resolve":{"scale":{"y":"independent","color":"independent"},"legend":{"color":"independent"},"axis":{"y":"independent"}}
},
{
"width":407,"height":322,
"layer":[
{"data":{"name":"bot_na"},"mark":{"type":"line","strokeWidth":1.8},
"encoding":{
"x":{"field":"t","type":"quantitative","scale":{"domain":[-0.46,6.25],"nice":false,"zero":false},
"axis":{"orient":"bottom","title":"time, ns","titleFontSize":15,"domain":false,"values":[0,0.5,1,1.5,2,2.5,3,3.5,4,4.5,5,5.5,6],"labelExpr":"datum.value % 1 === 0 ? format(datum.value, 'd') : ''","tickSize":{"condition":{"test":"datum.value % 1 === 0","value":5},"value":3},"labelPadding":3,"titlePadding":2}},
"y":{"field":"v","type":"quantitative","scale":{"domain":[58,72],"nice":false,"zero":false},
"axis":{"orient":"left","offset":-12,"title":"Rg, Angstrom","values":[60,62.5,65,67.5,70],"labelExpr":"datum.value % 5 === 0 ? format(datum.value, 'd') : ''","tickSize":{"condition":{"test":"datum.value % 5 === 0","value":5},"value":3},"labelPadding":6,"titlePadding":22}},
"color":{"field":"s","type":"nominal","scale":{"domain":["510K"],"range":["#ee22ee"]},
"legend":{"title":"330 Na:","legendX":148,"legendY":26,"symbolStrokeWidth":2}}
}},
{"data":{"name":"bot_mg"},"mark":{"type":"line","strokeWidth":1.8},
"encoding":{
"x":{"field":"t","type":"quantitative"},
"y":{"field":"v","type":"quantitative"},
"color":{"field":"s","type":"nominal","scale":{"domain":["510K","310K","310K quench"],"range":["#ee1111","#22ee22","#000000"]},
"legend":{"title":"165 Mg:","legendX":272,"legendY":22,"symbolStrokeWidth":2,"rowPadding":3.5}}
}},
{"data":{"name":"bot_arrow"},"mark":{"type":"rule","color":"#000","strokeWidth":1.5,"strokeDash":[2,4]},
"encoding":{"x":{"field":"t","type":"quantitative"},"x2":{"field":"t2"},"y":{"field":"v","type":"quantitative"},"y2":{"field":"v2"}}},
{"data":{"name":"bot_arrow"},"mark":{"type":"point","shape":"triangle-left","filled":true,"size":30,"color":"#000","opacity":1},
"encoding":{"x":{"field":"t2","type":"quantitative"},"y":{"field":"v2","type":"quantitative"}}},
{"data":{"name":"bot_frame"},"mark":{"type":"rule","color":"#000","strokeWidth":1.5},
"encoding":{"x":{"field":"t","type":"quantitative"},"x2":{"field":"t2"},"y":{"field":"v","type":"quantitative"}}}
],
"resolve":{"scale":{"color":"independent"},"legend":{"color":"independent"}}
}
],
"resolve":{"scale":{"color":"independent"},"legend":{"color":"independent"}}
}
